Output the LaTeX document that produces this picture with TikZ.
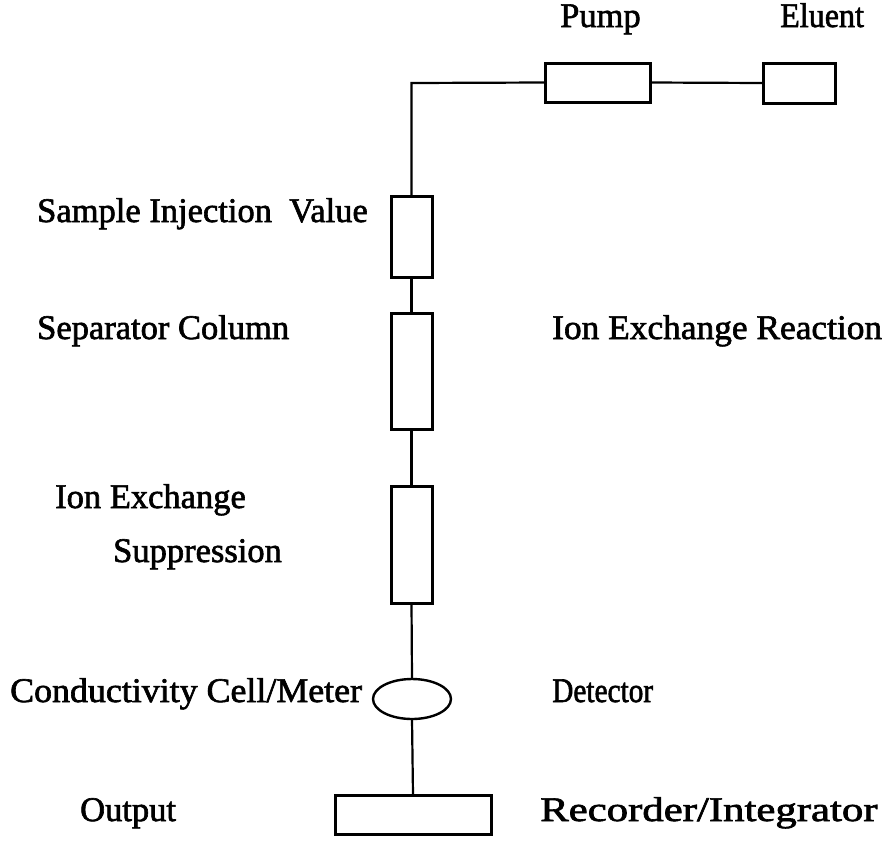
\documentclass[tikz,border=0pt]{standalone}
\usepackage{graphicx}
\usepackage{fontspec}
\newfontfamily\lblfont[FakeBold=1.8]{Liberation Serif}
\usetikzlibrary{shapes.geometric}
\begin{document}
\begin{tikzpicture}[x=1pt,y=-1pt,
  part/.style={draw,line width=3pt,rectangle,inner sep=0pt,outer sep=0pt},
  pipe/.style={line width=2.2pt},
  lbl/.style={anchor=base west,inner sep=0pt,font=\lblfont\fontsize{34.5}{40}\selectfont}]
\useasboundingbox (0,0) rectangle (882,841);
% components
\node[part,minimum width=105pt,minimum height=39pt] (pump) at (597.5,82.5) {};
\node[part,minimum width=72pt,minimum height=40pt] (eluent) at (799,83) {};
\node[part,minimum width=41pt,minimum height=81pt] (inj) at (411.5,236.5) {};
\node[part,minimum width=41pt,minimum height=116pt] (sep) at (411.5,371) {};
\node[part,minimum width=41pt,minimum height=117pt] (sup) at (411.5,544.5) {};
\node[draw,line width=2.4pt,ellipse,inner sep=0pt,outer sep=0pt,minimum width=78pt,minimum height=40pt] (det) at (412,699) {};
\node[part,minimum width=156pt,minimum height=39pt] (rec) at (413,814.5) {};
\coordinate (corner) at (411.5,83);
% connectors
\draw[pipe] (eluent.west) -- (pump.east);
\draw[pipe] (pump.west) -- (corner) -- (inj.north);
\draw[pipe] (inj.south) -- (sep.north);
\draw[pipe] (sep.south) -- (sup.north);
\draw[pipe] (sup.south) -- (det.north);
\draw[pipe] (det.south) -- (rec.north);
% labels
\node[lbl] (tpump) at (560,27) {Pump};
\node[lbl] (telu) at (780,27) {\scalebox{0.93}[1]{Eluent}};
\node[lbl] (tinj) at (37,222) {Sample Injection\ \ Value};
\node[lbl] (tsep) at (37,339) {Separator Column};
\node[lbl] (tiex) at (552,339) {\scalebox{1.025}[1]{Ion Exchange Reaction}};
\node[lbl] (tion) at (55,508) {Ion Exchange};
\node[lbl] (tsup) at (113,562) {Suppression};
\node[lbl] (tcon) at (10,702) {\scalebox{1.04}[1]{Conductivity Cell/Meter}};
\node[lbl] (tdet) at (552,702) {\scalebox{0.85}[1]{Detector}};
\node[lbl] (tout) at (80,821) {Output};
\node[lbl] (trec) at (540,821) {\scalebox{1.24}[1]{Recorder/Integrator}};
\end{tikzpicture}
\end{document}
